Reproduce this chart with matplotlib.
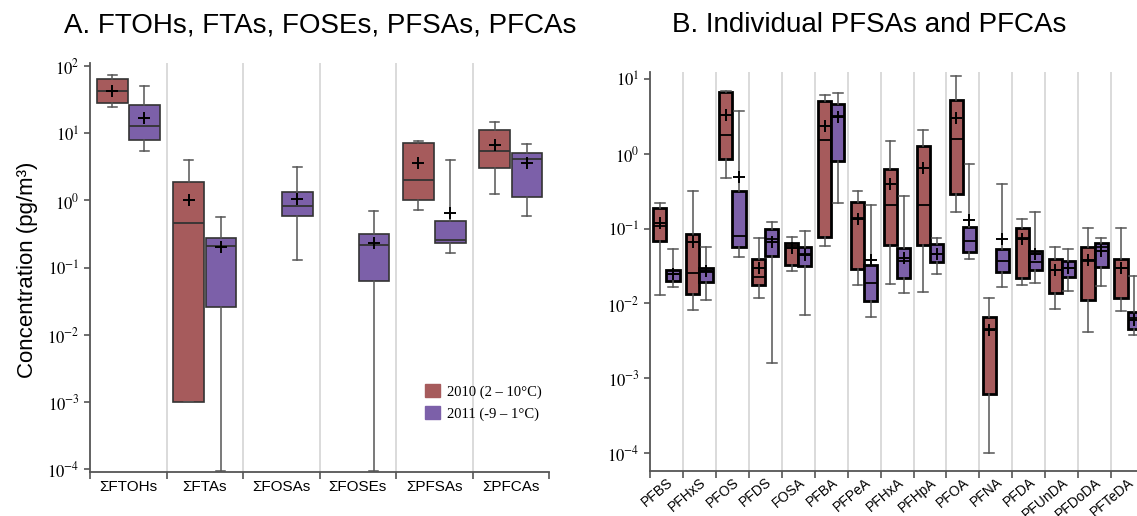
import numpy as np
import matplotlib
matplotlib.use("Agg")
import matplotlib.pyplot as plt
from matplotlib.patches import Patch
from matplotlib.ticker import FixedLocator, NullLocator, FuncFormatter
from matplotlib import font_manager

# --- data: panel A (sums) ---
cats_a = ["ΣFTOHs", "ΣFTAs", "ΣFOSAs", "ΣFOSEs", "ΣPFSAs", "ΣPFCAs"]

a10_lo = [24.5, 0.001, None, None, 0.71, 1.26]
a10_q1 = [28, 0.001, None, None, 1.01, 3.0]
a10_med = [42, 0.46, None, None, 2.0, 5.4]
a10_mean = [43, 1.0, None, None, 3.6, 6.7]
a10_q3 = [64, 1.86, None, None, 7.2, 11.1]
a10_hi = [73, 4.0, None, None, 7.6, 14.8]

a11_lo = [5.4, 9.3e-5, 0.13, 9.3e-5, 0.166, 0.58]
a11_q1 = [8.0, 0.026, 0.59, 0.063, 0.23, 1.12]
a11_med = [13, 0.21, 0.84, 0.22, 0.26, 4.1]
a11_mean = [17, 0.20, 1.06, 0.23, 0.64, 3.6]
a11_q3 = [26, 0.28, 1.35, 0.32, 0.50, 5.0]
a11_hi = [50, 0.56, 3.1, 0.69, 4.0, 6.9]

# --- data: panel B (individual compounds) ---
cats_b = ["PFBS", "PFHxS", "PFOS", "PFDS", "FOSA", "PFBA", "PFPeA", "PFHxA",
          "PFHpA", "PFOA", "PFNA", "PFDA", "PFUnDA", "PFDoDA", "PFTeDA"]

b10_lo = [0.0128, 0.0081, 0.47, 0.012, 0.027, 0.059, 0.0176, 0.018, 0.0144, 0.168, 1.0e-4, 0.0176, 0.0084, 0.0041, 0.008]
b10_q1 = [0.068, 0.0132, 0.84, 0.0176, 0.033, 0.078, 0.0285, 0.06, 0.06, 0.29, 0.00062, 0.0216, 0.0139, 0.011, 0.0118]
b10_med = [0.11, 0.0252, 1.77, 0.0224, 0.058, 1.55, 0.137, 0.207, 0.207, 1.59, 0.0045, 0.074, 0.028, 0.037, 0.030]
b10_mean = [0.12, 0.066, 3.3, 0.0297, 0.055, 2.35, 0.135, 0.39, 0.64, 3.04, 0.0044, 0.072, 0.028, 0.038, 0.030]
b10_q3 = [0.19, 0.084, 6.8, 0.039, 0.064, 5.1, 0.23, 0.62, 1.27, 5.2, 0.0066, 0.103, 0.039, 0.056, 0.039]
b10_hi = [0.222, 0.318, 7.0, 0.074, 0.078, 6.2, 0.32, 1.48, 2.08, 11, 0.0117, 0.135, 0.056, 0.103, 0.103]

b11_lo = [0.0164, 0.011, 0.042, 0.0016, 0.0071, 0.22, 0.0065, 0.0136, 0.0245, 0.039, 0.0167, 0.019, 0.0148, 0.017, 0.0038]
b11_q1 = [0.020, 0.0195, 0.057, 0.0436, 0.0313, 0.80, 0.0109, 0.0216, 0.036, 0.048, 0.026, 0.028, 0.0229, 0.031, 0.0046]
b11_med = [0.0247, 0.0266, 0.080, 0.072, 0.046, 3.2, 0.0186, 0.037, 0.046, 0.069, 0.037, 0.036, 0.030, 0.057, 0.0063]
b11_mean = [0.025, 0.027, 0.49, 0.067, 0.045, 3.1, 0.038, 0.04, 0.046, 0.132, 0.072, 0.046, 0.030, 0.051, 0.006]
b11_q3 = [0.028, 0.030, 0.318, 0.10, 0.057, 4.7, 0.033, 0.0556, 0.062, 0.104, 0.054, 0.051, 0.0366, 0.064, 0.0078]
b11_hi = [0.053, 0.056, 3.7, 0.124, 0.093, 6.5, 0.204, 0.275, 0.076, 0.73, 0.39, 0.168, 0.054, 0.076, 0.023]

years = ["2010 (2 – 10°C)", "2011 (-9 – 1°C)"]
c_red = "#a65b5c"
c_purple = "#7c60a9"

# fonts
installed = {f.name for f in font_manager.fontManager.ttflist}
narrow = "Liberation Sans Narrow" if "Liberation Sans Narrow" in installed else "Liberation Sans"
serif = ["Liberation Serif", "DejaVu Serif"]
plt.rcParams["font.family"] = ["Liberation Sans", "DejaVu Sans"]
plt.rcParams["mathtext.fontset"] = "stix"


def pow_label(v, pos):
    return r"$10^{%d}$" % int(round(np.log10(v)))


def make_stats(lo, q1, med, mean, q3, hi, offset):
    stats, pos = [], []
    for i in range(len(lo)):
        if lo[i] is None:
            continue
        stats.append(dict(whislo=lo[i], q1=q1[i], med=med[i], mean=mean[i],
                          q3=q3[i], whishi=hi[i], fliers=[]))
        pos.append(i + offset)
    return stats, pos


def draw(ax, arrays, offset, color, lw, edge, capw):
    stats, pos = make_stats(*arrays, offset)
    ax.bxp(stats, positions=pos, widths=0.4, patch_artist=True, showmeans=True,
           capwidths=capw, manage_ticks=False,
           boxprops=dict(facecolor=color, edgecolor=edge, linewidth=lw),
           medianprops=dict(color=edge, linewidth=1.3),
           whiskerprops=dict(color="#555555", linewidth=1.1),
           capprops=dict(color="#555555", linewidth=1.1),
           meanprops=dict(marker="+", markeredgecolor="black", markersize=9,
                          markeredgewidth=1.4))


def style(ax, cats, ylo, yhi, rot):
    n = len(cats)
    ax.set_yscale("log")
    ax.set_ylim(ylo, yhi)
    ax.set_xlim(-0.5, n - 0.5)
    ax.yaxis.set_major_locator(FixedLocator([1e-4, 1e-3, 1e-2, 1e-1, 1e0, 1e1, 1e2]))
    ax.yaxis.set_major_formatter(FuncFormatter(pow_label))
    ax.yaxis.set_minor_locator(NullLocator())
    bounds = np.arange(n + 1) - 0.5
    ax.set_xticks(bounds)
    ax.set_xticklabels([])
    ax.set_xticks(np.arange(n), minor=True)
    if rot:
        ax.set_xticklabels(cats, minor=True, rotation=40, ha="right", va="top",
                           rotation_mode="anchor", family=narrow, fontsize=10)
        ax.tick_params(axis="x", which="minor", length=0, pad=3)
    else:
        ax.set_xticklabels(cats, minor=True, family=narrow, fontsize=11)
        ax.tick_params(axis="x", which="minor", length=0, pad=6)
    ax.tick_params(axis="x", which="major", length=5, width=1.2, color="#555555")
    ax.tick_params(axis="y", length=4, width=1.2, color="#555555", labelsize=12)
    for b in bounds[1:-1]:
        ax.axvline(b, color="#d4d4d4", linewidth=1.2, zorder=0)
    for s in ["top", "right"]:
        ax.spines[s].set_visible(False)
    for s in ["left", "bottom"]:
        ax.spines[s].set_color("#555555")
        ax.spines[s].set_linewidth(1.3)


fig = plt.figure(figsize=(11.37, 5.16), dpi=100)

# --- (A) sums ---
ax1 = fig.add_axes([0.0792, 0.0853, 0.4037, 0.7926])
draw(ax1, (a10_lo, a10_q1, a10_med, a10_mean, a10_q3, a10_hi), -0.21, c_red, 1.2, "#333333", 0.12)
draw(ax1, (a11_lo, a11_q1, a11_med, a11_mean, a11_q3, a11_hi), 0.21, c_purple, 1.2, "#333333", 0.12)
style(ax1, cats_a, 10 ** -4.04, 10 ** 2.045, False)
ax1.legend(handles=[Patch(facecolor=c_red, edgecolor=c_red), Patch(facecolor=c_purple, edgecolor=c_purple)],
           labels=years, loc="upper left", bbox_to_anchor=(0.73, 0.215), frameon=False,
           handlelength=1.0, handleheight=1.0, handletextpad=0.5, labelspacing=0.5,
           borderpad=0, borderaxespad=0, prop=dict(family=serif, size=10.5))

# --- (B) individual PFSAs / PFCAs ---
ax2 = fig.add_axes([0.5717, 0.0872, 0.4345, 0.7733])
draw(ax2, (b10_lo, b10_q1, b10_med, b10_mean, b10_q3, b10_hi), -0.2, c_red, 2.0, "black", 0.3)
draw(ax2, (b11_lo, b11_q1, b11_med, b11_mean, b11_q3, b11_hi), 0.2, c_purple, 2.0, "black", 0.3)
style(ax2, cats_b, 10 ** -4.24, 10 ** 1.094, True)

fig.text(0.282, 1 - 25 / 516, "A. FTOHs, FTAs, FOSEs, PFSAs, PFCAs", ha="center", va="center", fontsize=20)
fig.text(869 / 1137, 1 - 25 / 516, "B. Individual PFSAs and PFCAs", ha="center", va="center", fontsize=20)
fig.text(28 / 1137, 1 - 270 / 516, "Concentration (pg/m³)", rotation=90, ha="center", va="center", fontsize=16)

fig.savefig("out.png", dpi=100)
